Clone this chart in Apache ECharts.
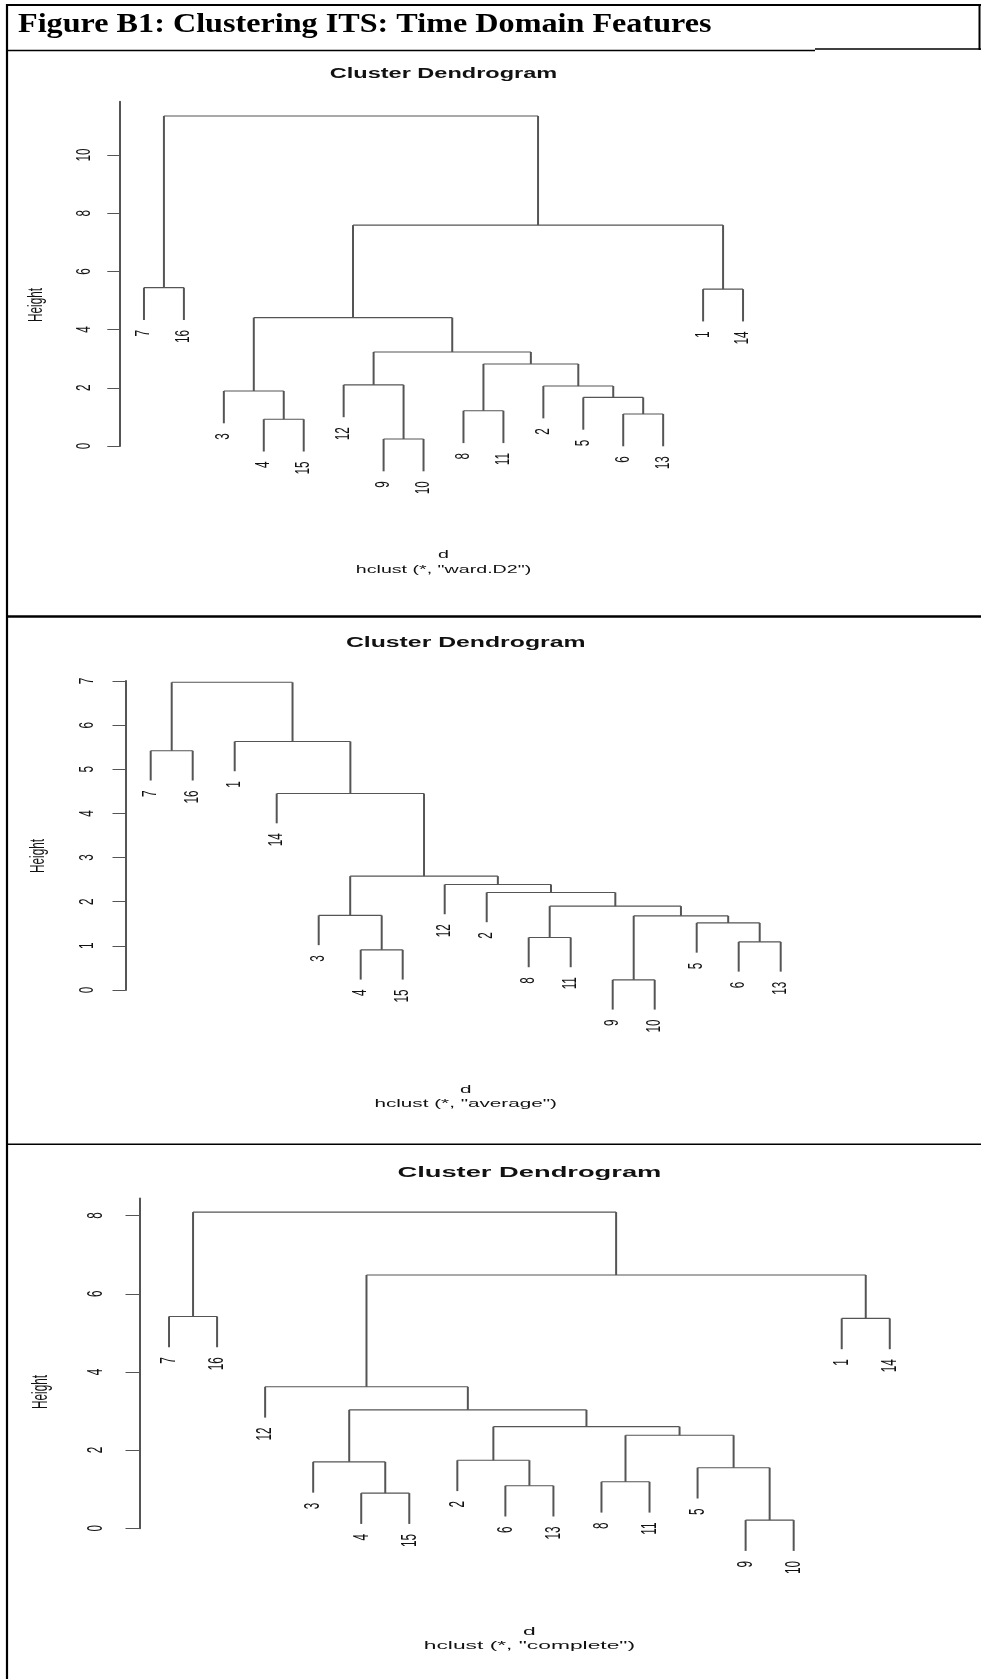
<!DOCTYPE html>
<html>
<head>
<meta charset="utf-8">
<script src="https://cdn.jsdelivr.net/npm/echarts@6/dist/echarts.min.js"></script>
<style>
html,body{margin:0;padding:0;background:#fff;}
#c{width:981px;height:1679px;}
</style>
</head>
<body>
<div id="c"></div>
<script>
// ---------------- DATA ----------------
const figureTitle = 'Figure B1: Clustering ITS: Time Domain Features';
const panelTitle = 'Cluster Dendrogram';
const xLabel = 'd';
const yLabel = 'Height';
const methodSubtitles = ['hclust (*, "ward.D2")', 'hclust (*, "average")', 'hclust (*, "complete")'];

// leaf order (left to right) for each dendrogram
const wardLeafOrder = [7, 16, 3, 4, 15, 12, 9, 10, 8, 11, 2, 5, 6, 13, 1, 14];
const averageLeafOrder = [7, 16, 1, 14, 3, 4, 15, 12, 2, 8, 11, 9, 10, 5, 6, 13];
const completeLeafOrder = [7, 16, 12, 3, 4, 15, 2, 6, 13, 8, 11, 5, 9, 10, 1, 14];

// merges in hclust style: [a, b, height]; negative = leaf label, positive = earlier merge row (1-based)
const wardMerges = [
  [-9, -10, 0.24], [-4, -15, 0.92], [-6, -13, 1.10], [-8, -11, 1.21],
  [-5, 3, 1.67], [-3, 2, 1.89], [-2, 5, 2.06], [-12, 1, 2.10],
  [4, 7, 2.82], [8, 9, 3.23], [6, 10, 4.41], [-1, -14, 5.39],
  [-7, -16, 5.44], [11, 12, 7.59], [13, 14, 11.34]
];
const averageMerges = [
  [-9, -10, 0.23], [-4, -15, 0.91], [-6, -13, 1.09], [-8, -11, 1.19],
  [-5, 3, 1.52], [1, 5, 1.68], [-3, 2, 1.69], [4, 6, 1.90],
  [-2, 8, 2.21], [-12, 9, 2.39], [7, 10, 2.58], [-14, 11, 4.45],
  [-7, -16, 5.42], [-1, 12, 5.63], [13, 14, 6.97]
];
const completeMerges = [
  [-9, -10, 0.21], [-4, -15, 0.90], [-6, -13, 1.09], [-8, -11, 1.19],
  [-5, 1, 1.55], [-3, 2, 1.70], [-2, 3, 1.74], [4, 5, 2.38],
  [7, 8, 2.60], [6, 9, 3.03], [-12, 10, 3.62], [-1, -14, 5.37],
  [-7, -16, 5.42], [11, 12, 6.48], [13, 14, 8.09]
];

// y tick labels
const wardTicks = [0, 2, 4, 6, 8, 10];
const averageTicks = [0, 1, 2, 3, 4, 5, 6, 7];
const completeTicks = [0, 2, 4, 6, 8];

// axis upper limits (top of R plot region / axis line)
const yTops = [11.83, 7, 8.44];

// ---------------- LAYOUT / STYLE ----------------
const layouts = [
  {left: 120, top: 101.7, width: 647, height: 344.3, stretch: 1.68, titleY: 74, hx: 37, hy: 305, dY: 555, subY: 570, tickOff: 35.7, tickLen: 12.7},
  {left: 125.5, top: 681, width: 680.4, height: 309, stretch: 1.77, titleY: 643.5, hx: 38, hy: 856, dY: 1090, subY: 1104, tickOff: 38, tickLen: 13},
  {left: 140.2, top: 1198.4, width: 778.4, height: 329.9, stretch: 1.95, titleY: 1173, hx: 41, hy: 1392, dY: 1632, subY: 1646, tickOff: 44.7, tickLen: 14.7}
];
const SANS = '"Liberation Sans", Arial, Helvetica, sans-serif';
const LINE = '#555';
const TXT = '#111';
const FS = 11.7;

function buildTree(leafOrder, merges) {
  const xOf = {};
  leafOrder.forEach((lab, i) => { xOf[lab] = i + 1; });
  const hs = merges.map(m => m[2]);
  const hang = 0.1 * (Math.max(...hs) - Math.min(...hs));
  const nodes = [], segs = [], leaves = [];
  merges.forEach(m => {
    const h = m[2];
    const kids = [m[0], m[1]].map(c => {
      if (c < 0) {
        const x = xOf[-c], y0 = h - hang;
        leaves.push([x, y0, -c]);
        return [x, y0];
      }
      return nodes[c - 1];
    });
    kids.forEach(k => segs.push([k[0], k[1], k[0], h, 1]));
    segs.push([kids[0][0], h, kids[1][0], h, 0]);
    nodes.push([(kids[0][0] + kids[1][0]) / 2, h]);
  });
  return {segs, leaves};
}

const trees = [
  buildTree(wardLeafOrder, wardMerges),
  buildTree(averageLeafOrder, averageMerges),
  buildTree(completeLeafOrder, completeMerges)
];
const tickSets = [wardTicks, averageTicks, completeTicks];

const grids = [], xAxes = [], yAxes = [], series = [], graphics = [];

layouts.forEach((L, i) => {
  grids.push({left: L.left, top: L.top, width: L.width, height: L.height, containLabel: false});
  xAxes.push({type: 'value', gridIndex: i, min: 0.4, max: 16.6, show: false});
  yAxes.push({
    type: 'value', gridIndex: i, min: 0, max: yTops[i], position: 'left',
    axisLine: {show: true, onZero: false, lineStyle: {color: LINE, width: 2}},
    axisTick: {show: true, inside: false, length: L.tickLen, customValues: tickSets[i], lineStyle: {color: LINE, width: 1}},
    axisLabel: {show: false},
    splitLine: {show: false}
  });
  // dendrogram segments
  series.push({
    type: 'custom', xAxisIndex: i, yAxisIndex: i, clip: false, silent: true, animation: false,
    encode: {x: [0, 2], y: [1, 3]},
    data: trees[i].segs,
    renderItem: (params, api) => {
      const a = api.coord([api.value(0), api.value(1)]);
      const b = api.coord([api.value(2), api.value(3)]);
      const vert = api.value(4) === 1;
      return {type: 'line', shape: {x1: a[0], y1: a[1], x2: b[0], y2: b[1]},
        style: {stroke: LINE, lineWidth: vert ? 2 : 1.1}};
    }
  });
  // leaf labels
  series.push({
    type: 'custom', xAxisIndex: i, yAxisIndex: i, clip: false, silent: true, animation: false,
    encode: {x: 0, y: 1},
    data: trees[i].leaves,
    renderItem: (params, api) => {
      const p = api.coord([api.value(0), api.value(1)]);
      return {type: 'text', x: p[0], y: p[1] + 10, rotation: Math.PI / 2, scaleY: L.stretch,
        style: {text: String(api.value(2)), font: FS + 'px ' + SANS, fill: TXT,
          align: 'right', textAlign: 'right', verticalAlign: 'middle', textVerticalAlign: 'middle'}};
    }
  });
  // y tick labels
  series.push({
    type: 'custom', xAxisIndex: i, yAxisIndex: i, clip: false, silent: true, animation: false,
    encode: {y: 0},
    data: tickSets[i].map(v => [v]),
    renderItem: (params, api) => {
      const p = api.coord([0.4, api.value(0)]);
      return {type: 'text', x: p[0] - L.tickOff, y: p[1], rotation: Math.PI / 2, scaleY: L.stretch,
        style: {text: String(api.value(0)), font: FS + 'px ' + SANS, fill: TXT,
          align: 'center', textAlign: 'center', verticalAlign: 'middle', textVerticalAlign: 'middle'}};
    }
  });
  const cx = L.left + L.width / 2;
  graphics.push(
    {type: 'text', x: cx, y: L.titleY, scaleX: L.stretch, silent: true,
     style: {text: panelTitle, font: 'bold 14px ' + SANS, fill: TXT, align: 'center', textAlign: 'center', verticalAlign: 'middle', textVerticalAlign: 'middle'}},
    {type: 'text', x: L.hx, y: L.hy, rotation: Math.PI / 2, scaleY: L.stretch, silent: true,
     style: {text: yLabel, font: FS + 'px ' + SANS, fill: TXT, align: 'center', textAlign: 'center', verticalAlign: 'middle', textVerticalAlign: 'middle'}},
    {type: 'text', x: cx, y: L.dY, scaleX: L.stretch, silent: true,
     style: {text: xLabel, font: FS + 'px ' + SANS, fill: TXT, align: 'center', textAlign: 'center', verticalAlign: 'middle', textVerticalAlign: 'middle'}},
    {type: 'text', x: cx, y: L.subY, scaleX: L.stretch, silent: true,
     style: {text: methodSubtitles[i], font: FS + 'px ' + SANS, fill: TXT, align: 'center', textAlign: 'center', verticalAlign: 'middle', textVerticalAlign: 'middle'}}
  );
});

// figure frame and title
const B = '#000';
graphics.push(
  {type: 'text', x: 18, y: 24.5, scaleX: 1.17, silent: true,
   style: {text: figureTitle, font: 'bold 27.5px "Liberation Serif", "Times New Roman", serif', fill: '#000',
     align: 'left', textAlign: 'left', verticalAlign: 'middle', textVerticalAlign: 'middle'}},
  {type: 'line', silent: true, shape: {x1: 7, y1: 4, x2: 7, y2: 1679}, style: {stroke: B, lineWidth: 2.2}},
  {type: 'line', silent: true, shape: {x1: 6, y1: 5, x2: 981, y2: 5}, style: {stroke: B, lineWidth: 2}},
  {type: 'line', silent: true, shape: {x1: 979.5, y1: 4, x2: 979.5, y2: 50}, style: {stroke: B, lineWidth: 2}},
  {type: 'line', silent: true, shape: {x1: 7, y1: 50.5, x2: 815, y2: 50.5}, style: {stroke: B, lineWidth: 1.6}},
  {type: 'line', silent: true, shape: {x1: 815, y1: 49, x2: 981, y2: 49}, style: {stroke: B, lineWidth: 1.6}},
  {type: 'line', silent: true, shape: {x1: 7, y1: 616.5, x2: 981, y2: 616.5}, style: {stroke: B, lineWidth: 2.5}},
  {type: 'line', silent: true, shape: {x1: 7, y1: 1144.3, x2: 981, y2: 1144.3}, style: {stroke: B, lineWidth: 1.6}}
);

const chart = echarts.init(document.getElementById('c'), null, {renderer: 'canvas'});
chart.setOption({
  animation: false,
  backgroundColor: '#fff',
  grid: grids,
  xAxis: xAxes,
  yAxis: yAxes,
  series: series,
  graphic: {elements: graphics}
});
</script>
</body>
</html>
